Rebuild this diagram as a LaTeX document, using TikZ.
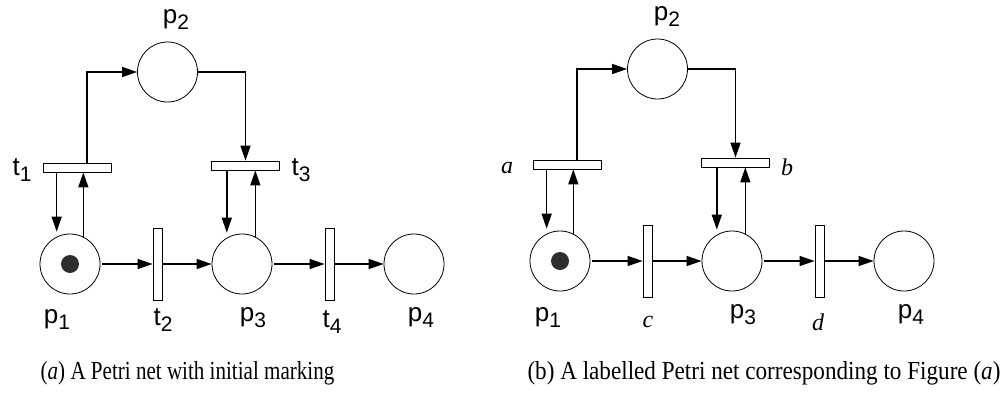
\documentclass[tikz,border=0pt]{standalone}
\usepackage{fontspec}
\setmainfont{Liberation Serif}
\newfontfamily\sflab{Liberation Sans}
\newfontfamily\capfont[FakeStretch=0.81]{Liberation Serif}
\newfontfamily\capfontw[FakeStretch=0.89]{Liberation Serif}
\usetikzlibrary{arrows.meta}
\newcommand{\lbl}[2]{{\sflab\fontsize{26}{26}\selectfont #1\raisebox{-6pt}{\fontsize{21}{21}\selectfont #2}}}

\begin{document}
\begin{tikzpicture}[x=1pt,y=-1pt,
 place/.style={circle,draw,line width=0.8pt,minimum size=60pt,inner sep=0pt},
 htrans/.style={rectangle,draw,line width=0.8pt,minimum width=68pt,minimum height=9pt,inner sep=0pt},
 vtrans/.style={rectangle,draw,line width=0.8pt,minimum width=9pt,minimum height=72pt,inner sep=0pt},
 token/.style={circle,fill=black!82,minimum size=18pt,inner sep=0pt},
 flow/.style={-{Triangle[length=15pt,width=10pt]},line width=1.4pt},
 lab/.style={inner sep=0pt},
 tlab/.style={inner sep=0pt,font=\fontsize{24}{24}\selectfont\itshape},
 caption/.style={inner sep=0pt,font=\capfont\fontsize{26}{26}\selectfont}]
\useasboundingbox (0,0) rectangle (1002,402);
% (a) net with initial marking
\node[place] (p1L) at (70,264) {};
\node[token] (m1L) at (p1L) {};
\node[place] (p2L) at (167.5,72) {};
\node[place] (p3L) at (242,264) {};
\node[place] (p4L) at (414,264) {};
\node[htrans] (t1L) at (77,167.5) {};
\node[htrans] (t3L) at (245.5,165.5) {};
\node[vtrans] (t2L) at (157.5,264) {};
\node[vtrans] (t4L) at (329.5,264) {};
\draw[flow] ([xshift=10pt]t1L.north) |- (p2L.west);
\draw[flow] (p2L.east) -| (t3L.north);
\draw[flow,shorten >=5pt] (p1L.116 |- t1L.south) -- (p1L.116);
\draw[flow] (p1L.64) -- (p1L.64 |- t1L.south);
\draw[flow,shorten >=5pt] (p3L.120 |- t3L.south) -- (p3L.120);
\draw[flow] (p3L.64) -- (p3L.64 |- t3L.south);
\draw[flow,shorten <=2pt] (p1L) -- (t2L);
\draw[flow] (t2L) -- (p3L);
\draw[flow,shorten <=2pt] (p3L) -- (t4L);
\draw[flow] (t4L) -- (p4L);
\node[lab] (lp2L) at (176,20) {\lbl{p}{2}};
\node[lab] (lt1L) at (22,170) {\lbl{t}{1}};
\node[lab] (lt3L) at (301,170) {\lbl{t}{3}};
\node[lab] (lp1L) at (57,320) {\lbl{p}{1}};
\node[lab] (lt2L) at (163,320) {\lbl{t}{2}};
\node[lab] (lp3L) at (253,318) {\lbl{p}{3}};
\node[lab] (lt4L) at (332,322) {\lbl{t}{4}};
\node[lab] (lp4L) at (421,318) {\lbl{p}{4}};
% (b) labelled net
\begin{scope}[shift={(490,-3)}]
\node[place] (p1R) at (70,264) {};
\node[token] (m1R) at (p1R) {};
\node[place] (p2R) at (167.5,72) {};
\node[place] (p3R) at (242,264) {};
\node[place] (p4R) at (414,264) {};
\node[htrans] (t1R) at (77,167.5) {};
\node[htrans] (t3R) at (245.5,165.5) {};
\node[vtrans] (t2R) at (157.5,264) {};
\node[vtrans] (t4R) at (329.5,264) {};
\draw[flow] ([xshift=10pt]t1R.north) |- (p2R.west);
\draw[flow] (p2R.east) -| (t3R.north);
\draw[flow,shorten >=5pt] (p1R.116 |- t1R.south) -- (p1R.116);
\draw[flow] (p1R.64) -- (p1R.64 |- t1R.south);
\draw[flow,shorten >=5pt] (p3R.120 |- t3R.south) -- (p3R.120);
\draw[flow] (p3R.64) -- (p3R.64 |- t3R.south);
\draw[flow,shorten <=2pt] (p1R) -- (t2R);
\draw[flow] (t2R) -- (p3R);
\draw[flow,shorten <=2pt] (p3R) -- (t4R);
\draw[flow] (t4R) -- (p4R);
\node[lab] (lp2R) at (177,20) {\lbl{p}{2}};
\node[tlab] (la) at (17,171) {a};
\node[tlab] (lb) at (297,170) {b};
\node[lab] (lp1R) at (58,321) {\lbl{p}{1}};
\node[tlab] (lc) at (158,325) {c};
\node[lab] (lp3R) at (253,318) {\lbl{p}{3}};
\node[tlab] (ld) at (328,325) {d};
\node[lab] (lp4R) at (421,318) {\lbl{p}{4}};
\end{scope}
% captions
\node[caption] (capL) at (187.5,373) {(\textit{a}) A Petri net with initial marking};
\node[caption,font=\capfontw\fontsize{26}{26}\selectfont] (capR) at (764,373) {(b) A labelled Petri net corresponding to Figure (\textit{a})};
\end{tikzpicture}
\end{document}
